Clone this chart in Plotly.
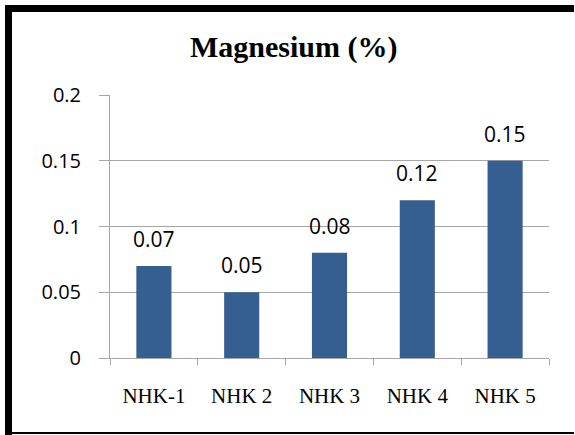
import plotly.graph_objects as go

# Magnesium content per sample
samples = ["NHK-1", "NHK 2", "NHK 3", "NHK 4", "NHK 5"]
magnesium = [0.07, 0.05, 0.08, 0.12, 0.15]
y_ticks = [0, 0.05, 0.1, 0.15, 0.2]
y_tick_text = ["0", "0.05", "0.1", "0.15", "0.2"]

W, H = 575, 435
ML, MR, MT, MB = 110, 26, 95, 77
PW, PH = W - ML - MR, H - MT - MB

BAR = "#365F91"
GRID = "#A6A6A6"
SERIF = "Liberation Serif, Times New Roman, serif"


def px_x(px):
    return (px - ML) / PW


def px_y(py):
    return (H - MB - py) / PH


fig = go.Figure(
    go.Bar(
        x=samples,
        y=magnesium,
        marker=dict(color=BAR, line=dict(width=0)),
        hoverinfo="skip",
    )
)

# value labels above each bar
for s, v in zip(samples, magnesium):
    fig.add_annotation(
        x=s, y=v, text=f"{v:g}", showarrow=False,
        yanchor="bottom", yshift=11,
        font=dict(family="Open Sans", size=21, color="#000000"),
    )

# chart frame: heavy top and left edges, thin bottom edge
frame = [
    (5, 5, W - 1, 12),
    (5, 5, 12, H),
    (5, 432, W - 1, 434),
]
for x0, y0, x1, y1 in frame:
    fig.add_shape(
        type="rect", xref="paper", yref="paper",
        x0=px_x(x0), x1=px_x(x1), y0=px_y(y0), y1=px_y(y1),
        fillcolor="#000000", line=dict(width=0), layer="above",
    )

# chart title
fig.add_annotation(
    xref="paper", yref="paper",
    x=px_x(293), y=px_y(47), xanchor="center", yanchor="middle",
    text="Magnesium (%)", showarrow=False,
    font=dict(family=SERIF, size=30, color="#000000", weight="bold"),
)

fig.update_layout(
    width=W, height=H,
    margin=dict(l=ML, r=MR, t=MT, b=MB, pad=0),
    paper_bgcolor="#FFFFFF", plot_bgcolor="#FFFFFF",
    bargap=0.6,
    showlegend=False,
    xaxis=dict(
        showgrid=False,
        showline=True, linecolor=GRID, linewidth=1,
        ticks="outside", tickson="boundaries", ticklen=6, tickcolor=GRID,
        tickfont=dict(family=SERIF, size=21, color="#000000"),
        ticklabelstandoff=19,
        fixedrange=True,
    ),
    yaxis=dict(
        range=[0, 0.2],
        tickvals=y_ticks, ticktext=y_tick_text,
        showgrid=True, gridcolor=GRID, gridwidth=1,
        showline=True, linecolor=GRID, linewidth=1,
        ticks="outside", ticklen=10, tickcolor=GRID,
        tickfont=dict(family="Open Sans", size=20, color="#000000"),
        ticklabelstandoff=14,
        zeroline=False,
        fixedrange=True,
    ),
)

fig.write_html("out.html", config={"displayModeBar": False})
